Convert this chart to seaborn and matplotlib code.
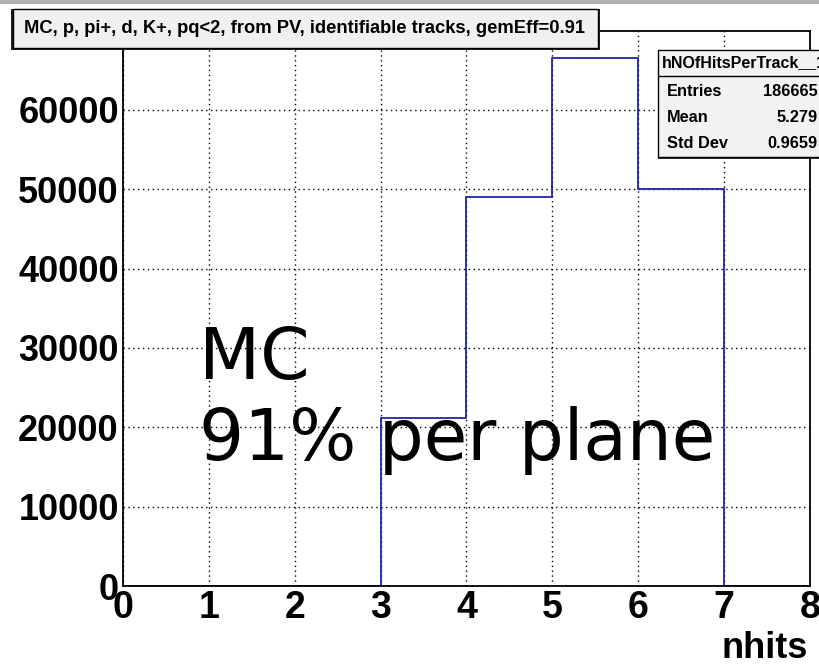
import numpy as np
import pandas as pd
import matplotlib
matplotlib.use("Agg")
import matplotlib.pyplot as plt
from matplotlib.patches import Rectangle
from matplotlib.lines import Line2D
from matplotlib.ticker import MultipleLocator
import seaborn as sns

# ---- data ----
nhits = [0, 1, 2, 3, 4, 5, 6, 7]
counts = [0, 0, 0, 21160, 49035, 66470, 50000, 0]
bin_edges = [0, 1, 2, 3, 4, 5, 6, 7, 8]
x_ticks = [0, 1, 2, 3, 4, 5, 6, 7, 8]
y_ticks = [0, 10000, 20000, 30000, 40000, 50000, 60000]
title = "MC, p, pi+, d, K+, pq<2, from PV, identifiable tracks, gemEff=0.91"
stats_name = "hNOfHitsPerTrack__1"
stats_labels = ["Entries", "Mean", "Std Dev"]
stats_values = ["186665", "5.279", "0.9659"]
xlabel = "nhits"
annot_lines = ["MC", "91% per plane"]

sns.set_theme(style="white")
plt.rcParams["font.family"] = ["Liberation Sans", "DejaVu Sans"]

W, H = 820, 667
fig = plt.figure(figsize=(W / 100, H / 100), dpi=100)
fig.patch.set_facecolor("white")

def fx(px):
    return px / W

def fy(py):
    return 1 - py / H

L, R, T, B = 123, 810, 31, 586
ax = fig.add_axes([fx(L), fy(B), fx(R) - fx(L), fy(T) - fy(B)])
ax.set_facecolor("white")

df = pd.DataFrame({"nhits": nhits, "counts": counts})
sns.histplot(data=df, x="nhits", weights="counts", bins=bin_edges,
             element="step", fill=False, color="#2222aa", linewidth=1.3, ax=ax)

ax.set_xlim(0, 8)
ax.set_ylim(0, 69930)
ax.set_xticks(x_ticks)
ax.set_xticklabels([str(v) for v in x_ticks])
ax.set_yticks(y_ticks)
ax.set_yticklabels([str(v) for v in y_ticks])
ax.xaxis.set_minor_locator(MultipleLocator(0.2))
ax.yaxis.set_minor_locator(MultipleLocator(2000))
ax.tick_params(axis="both", which="both", direction="in", colors="black",
               top=False, right=False, width=1.2)
ax.tick_params(axis="x", which="major", length=17, labelsize=27, pad=3)
ax.tick_params(axis="x", which="minor", length=9)
ax.tick_params(axis="y", which="major", length=22, labelsize=26, pad=3)
ax.tick_params(axis="y", which="minor", length=12)
for lab in ax.get_xticklabels() + ax.get_yticklabels():
    lab.set_fontweight("bold")
ax.grid(True, which="major", linestyle=(0, (1, 2.5)), color="black", linewidth=1.0)
for s in ax.spines.values():
    s.set_visible(True)
    s.set_color("black")
    s.set_linewidth(1.3)
ax.set_xlabel("")
ax.set_ylabel("")

# x label at bottom right
fig.text(fx(808), fy(648), xlabel, ha="right", va="center",
         fontsize=26, fontweight="bold", color="black")

# annotation text
ax.text(0.88, 26100, annot_lines[0], fontsize=51, family="DejaVu Sans",
        color="black", ha="left", va="baseline")
ax.text(0.88, 15900, annot_lines[1], fontsize=51, family="DejaVu Sans",
        color="black", ha="left", va="baseline")

# top gray line
fig.add_artist(Line2D([0, 1], [fy(2), fy(2)], transform=fig.transFigure,
                      color="#b0b0b0", linewidth=3))

# title box with shadow
tx0, ty0, tx1, ty1 = 12, 9, 598, 48
fig.add_artist(Rectangle((fx(tx0 - 1), fy(ty1 + 2)), fx(tx1 + 2) - fx(tx0 - 1), fy(ty0) - fy(ty1 + 2),
                         transform=fig.transFigure, facecolor="#222222",
                         edgecolor="none", zorder=5))
fig.add_artist(Rectangle((fx(tx0 + 1), fy(ty1)), fx(tx1) - fx(tx0 + 1), fy(ty0) - fy(ty1),
                         transform=fig.transFigure, facecolor="#f0f0f0",
                         edgecolor="black", linewidth=1.0, zorder=6))
fig.text(fx(305), fy(28.5), title, ha="center", va="center",
         fontsize=13.2, fontweight="bold", color="black", zorder=7)

# stats box
sx0, sy0, sx1, sy1 = 658, 50, 824, 157
fig.add_artist(Rectangle((fx(sx0), fy(sy1 + 1.5)), fx(sx1) - fx(sx0), fy(sy0) - fy(sy1 + 1.5),
                         transform=fig.transFigure, facecolor="#333333",
                         edgecolor="none", zorder=5))
fig.add_artist(Rectangle((fx(sx0), fy(sy1)), fx(sx1) - fx(sx0), fy(sy0) - fy(sy1),
                         transform=fig.transFigure, facecolor="#f2f2f2",
                         edgecolor="black", linewidth=1.0, zorder=6))
fig.add_artist(Line2D([fx(sx0), fx(sx1)], [fy(76), fy(76)], transform=fig.transFigure,
                      color="black", linewidth=1.0, zorder=7))
fig.text(fx(662), fy(63), stats_name, ha="left", va="center",
         fontsize=11.5, fontweight="bold", color="black", zorder=8)
row_y = [91, 118, 144]
for lab, val, yy in zip(stats_labels, stats_values, row_y):
    fig.text(fx(667), fy(yy), lab, ha="left", va="center",
             fontsize=11.8, fontweight="bold", color="black", zorder=8)
    fig.text(fx(818), fy(yy), val, ha="right", va="center",
             fontsize=11.8, fontweight="bold", color="black", zorder=8)

fig.savefig("out.png", dpi=100)
